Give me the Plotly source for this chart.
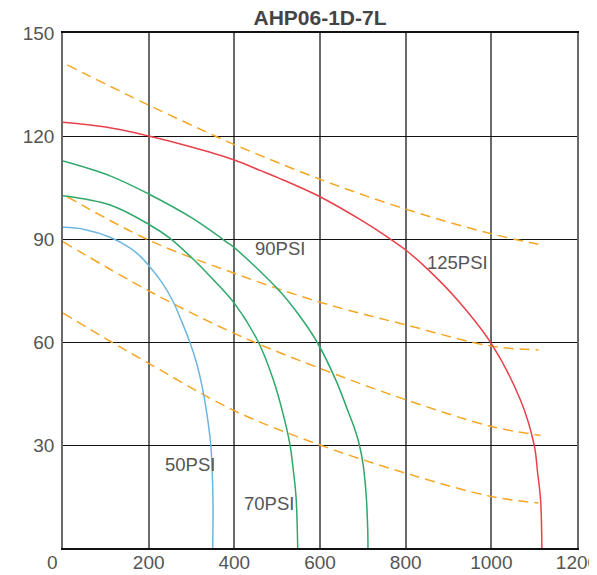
import plotly.graph_objects as go

# Кривые давления (расход, давление)
psi50_x = [0, 50, 110, 156, 180, 200, 230, 257, 276, 296, 312, 324, 336, 345, 350, 349.5]
psi50_y = [93.4, 92.8, 90.5, 87.4, 85, 82.3, 77.5, 71.8, 66.3, 60, 53.8, 47.5, 39, 30, 15, 0]

psi70_x = [0, 110, 200, 250, 300, 350, 400, 456, 491, 515, 530, 538, 544, 548]
psi70_y = [102.6, 99.9, 94.3, 90.2, 84.6, 78.3, 71.3, 60, 49, 38.5, 30, 22.3, 15, 0]

psi90_x = [0, 110, 200, 300, 389, 400, 503, 550, 593, 637, 665, 680, 692, 701, 708, 711.5, 712]
psi90_y = [112.7, 108.4, 103.1, 96.2, 88.5, 87.5, 75.2, 68, 60, 48.9, 40, 35, 30, 24, 15, 5, 0]

psi125_x = [0, 100, 200, 300, 400, 460, 514, 600, 700, 750, 800, 853, 921, 1000, 1068, 1100, 1108, 1115, 1118]
psi125_y = [124, 122.6, 120, 116.8, 113, 110, 107.2, 102.3, 95.2, 91.2, 86.8, 81, 72.2, 59.5, 43.1, 30, 22, 14, 0]

# Пунктирные линии
d1_x = [10, 200, 355, 400, 600, 800, 1000, 1110]
d1_y = [140.7, 129, 120, 117.5, 107.4, 98.7, 91.5, 88.5]
d2_x = [10, 200, 400, 600, 800, 1000, 1110]
d2_y = [102.3, 89.7, 80, 71.6, 65, 58.8, 57.7]
d3_x = [0, 200, 400, 600, 800, 1000, 1115]
d3_y = [89.2, 74.9, 62.5, 52.3, 43.2, 35.4, 32.8]
d4_x = [0, 113, 200, 400, 600, 800, 1000, 1110]
d4_y = [68.4, 60, 53.8, 40, 30, 21.8, 15, 13.1]

labels = ["50PSI", "70PSI", "90PSI", "125PSI"]
label_x = [296, 481, 507, 922]
label_y = [24.2, 13.1, 87.1, 83.3]

x_ticks = [0, 200, 400, 600, 800, 1000, 1200]
y_ticks = [30, 60, 90, 120, 150]

fig = go.Figure()

for xs, ys in [(d1_x, d1_y), (d2_x, d2_y), (d3_x, d3_y), (d4_x, d4_y)]:
    fig.add_trace(go.Scatter(x=xs, y=ys, mode="lines",
                             line=dict(color="#f5a623", width=1.5, dash="10px,6px", shape="spline")))

curves = [(psi50_x, psi50_y, "#6bb6e2"), (psi70_x, psi70_y, "#2fa86a"),
          (psi90_x, psi90_y, "#2fa86a"), (psi125_x, psi125_y, "#e8414a")]
for xs, ys, c in curves:
    fig.add_trace(go.Scatter(x=xs, y=ys, mode="lines",
                             line=dict(color=c, width=1.5, shape="spline")))

for t, lx, ly in zip(labels, label_x, label_y):
    fig.add_annotation(x=lx, y=ly, text=t, showarrow=False,
                       font=dict(size=18.5, color="#555555", family="Liberation Sans"))

# подпись "0" в углу
fig.add_annotation(x=0, y=0, text="0", showarrow=False, xshift=-11, yshift=-14,
                   font=dict(size=19, color="#555555", family="Liberation Sans"))

# страница сдвинута на 8px (отступ body), поэтому размеры чуть меньше
fig.update_layout(
    width=589, height=567,
    margin=dict(l=55, r=20, t=25, b=27),
    plot_bgcolor="white", paper_bgcolor="white",
    showlegend=False,
    title=dict(text="<b>AHP06-1D-7L</b>", x=0.5, xref="paper", xanchor="center",
               y=1, yref="container", yanchor="top", pad=dict(t=2),
               font=dict(size=21, color="#444444", family="Liberation Sans")),
    font=dict(family="Liberation Sans", size=19, color="#555555"),
)
fig.update_xaxes(range=[0, 1200], tickvals=x_ticks,
                 ticktext=["" if v == 0 else str(v) for v in x_ticks],
                 showgrid=True, gridcolor="#6a6a6a", gridwidth=1.5,
                 showline=True, linecolor="#111111", linewidth=1.5, mirror=True,
                 zeroline=False, ticks="", ticklabelstandoff=-4,
                 ticklabeloverflow="allow", automargin=False, fixedrange=True)
fig.update_yaxes(range=[0, 150], tickvals=y_ticks,
                 showgrid=True, gridcolor="#111111", gridwidth=1,
                 showline=True, linecolor="#6a6a6a", linewidth=1.5, mirror=True,
                 zeroline=False, ticks="", ticklabelstandoff=3, automargin=False,
                 fixedrange=True)

fig.write_html("out.html")
